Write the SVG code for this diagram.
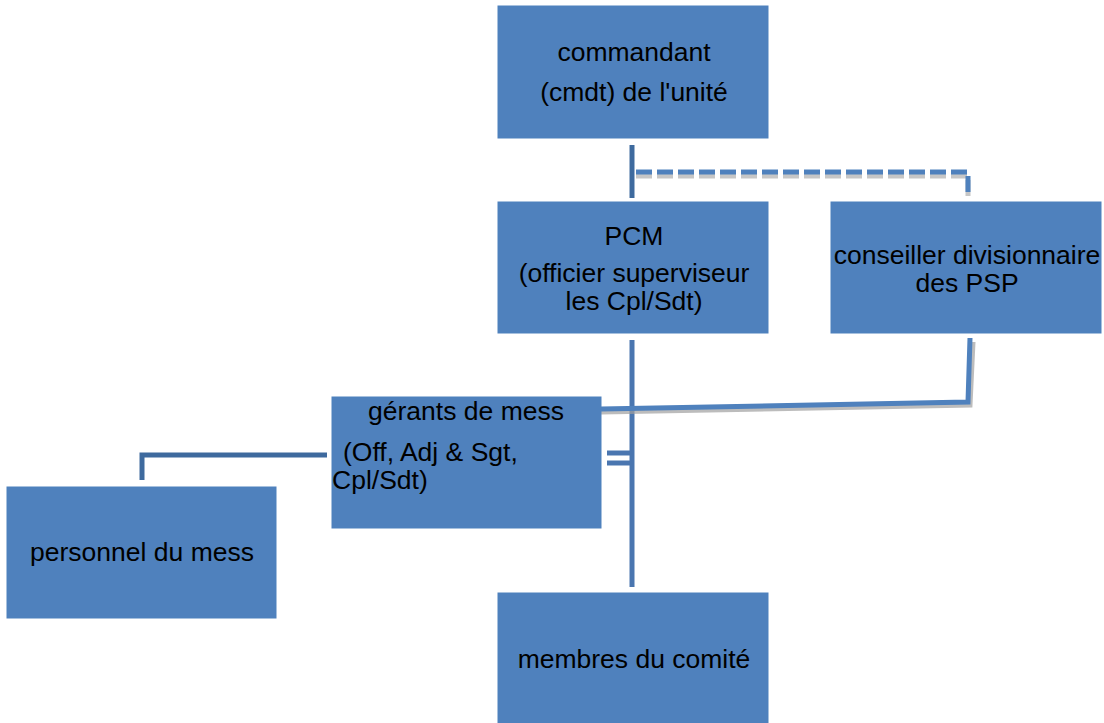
<svg xmlns="http://www.w3.org/2000/svg" width="1104" height="723" viewBox="0 0 1104 723">
<style>
.box{fill:#4f81bd;stroke:#4f81bd;stroke-width:1}
.t{font-family:"Liberation Sans",Arial,sans-serif;font-size:26.5px;fill:#000}
.c{text-anchor:middle}
.ln{fill:none;stroke:#4a76b0;stroke-width:5}
.dk{fill:none;stroke:#3e6a9e;stroke-width:5}
.sh{fill:none;stroke:#a0a0a0;stroke-width:5}
</style>
<rect width="1104" height="723" fill="#fff"/>
<g id="connectors">
<line class="dk" x1="632" y1="145" x2="632" y2="198"/>
<polyline class="sh" points="636,176 968,176 968,198" stroke-dasharray="16,5" opacity="0.6"/>
<polyline class="ln" points="636,172 968,172 968,196" stroke-dasharray="16,5" style="stroke:#4f81bd"/>
<line class="ln" x1="632" y1="340" x2="632" y2="587"/>
<polyline class="sh" points="601,412 970,405 973,342" opacity="0.7"/>
<polyline class="ln" points="601,409 968,402 970,338" style="stroke:#4f81bd"/>
<line class="ln" x1="607" y1="453" x2="632" y2="453"/>
<line class="ln" x1="607" y1="463" x2="632" y2="463"/>
<polyline class="dk" points="327,455 142,455 142,480"/>
</g>
<g id="n_cmdt">
<rect class="box" x="498" y="6" width="270" height="132"/>
<text class="t c" x="634" y="61">commandant</text>
<text class="t c" x="634" y="101">(cmdt) de l'unité</text>
</g>
<g id="n_pcm">
<rect class="box" x="498" y="202" width="270" height="131"/>
<text class="t c" x="634" y="245">PCM</text>
<text class="t c" x="634" y="282">(officier superviseur</text>
<text class="t c" x="634" y="310">les Cpl/Sdt)</text>
</g>
<g id="n_conseiller">
<rect class="box" x="831" y="202" width="270" height="131"/>
<text class="t c" x="967" y="264">conseiller divisionnaire</text>
<text class="t c" x="967" y="292">des PSP</text>
</g>
<g id="n_gerants">
<rect class="box" x="332" y="397" width="269" height="131"/>
<text class="t c" x="466" y="420">gérants de mess</text>
<text class="t" x="343" y="461">(Off, Adj &amp; Sgt,</text>
<text class="t" x="332" y="489">Cpl/Sdt)</text>
</g>
<g id="n_personnel">
<rect class="box" x="7" y="487" width="269" height="131"/>
<text class="t c" x="142" y="561">personnel du mess</text>
</g>
<g id="n_membres">
<rect class="box" x="498" y="593" width="270" height="130"/>
<text class="t c" x="634" y="668">membres du comité</text>
</g>
</svg>
